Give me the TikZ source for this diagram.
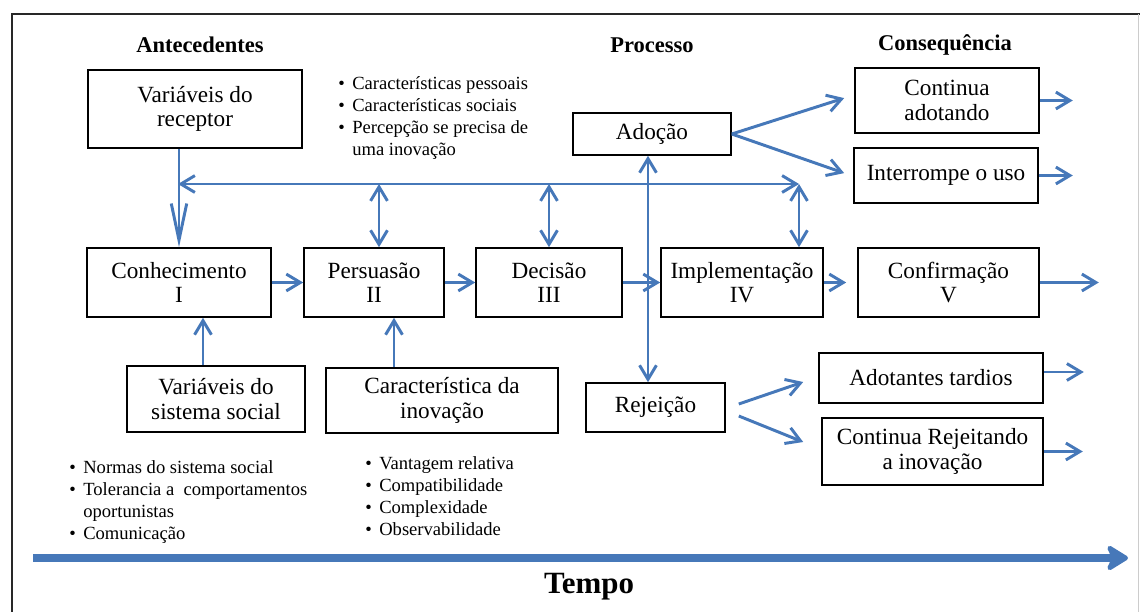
\documentclass[tikz,border=0pt]{standalone}
\usepackage{fontspec}
\setmainfont{Liberation Serif}
\usetikzlibrary{arrows.meta}
\definecolor{flowblue}{RGB}{70,120,185}
\definecolor{framegray}{RGB}{40,40,40}
\newcommand{\bul}{\makebox[10pt][l]{\textbullet}}
\newcommand{\cont}{\hspace*{10pt}}

\begin{document}
\begin{tikzpicture}[
  x=0.025cm, y=-0.025cm,
  box/.style={draw, line width=1.1pt, align=center, inner sep=2pt,
              font=\fontsize{16.5}{17.5}\selectfont},
  hdr/.style={font=\fontsize{16}{18}\selectfont\bfseries},
  lst/.style={align=left, anchor=north west, inner sep=0pt,
              font=\fontsize{13.2}{15.8}\selectfont},
  arr/.style={-{Straight Barb[length=10pt,width=12pt]}, line width=2.1pt, flowblue},
  dbl/.style={{Straight Barb[length=10pt,width=12pt]}-{Straight Barb[length=10pt,width=12pt]},
              line width=2.1pt, flowblue},
  tarr/.style={-{Stealth[length=18pt,width=22pt,inset=5pt,round]}, line width=5.5pt, flowblue}
]
\useasboundingbox (0,0) rectangle (1140,612);
\draw[framegray, line width=2pt] (12,612) -- (12,14) -- (1140,14);
\draw[gray!40, line width=0.6pt] (1138,14) -- (1138,612);

% headings
\node[hdr] (hant) at (200,45) {Antecedentes};
\node[hdr] (hproc) at (652,45) {Processo};
\node[hdr] (hcons) at (945,45) {Consequência};

% antecedents
\node[box, minimum width=5.35cm, minimum height=1.95cm] (recep) at (195,109) {Variáveis do\\receptor};
\node[box, minimum width=4.45cm, minimum height=1.65cm] (social) at (216,399) {Variáveis do\\sistema social};
\node[box, minimum width=5.8cm, minimum height=1.625cm] (caract) at (442,400.5) {Característica da\\inovação};
\node[lst] (lrecep) at (338,76) {\bul Características pessoais\\\bul Características sociais\\\bul Percepção se precisa de\\\cont uma inovação};
\node[lst] (lsocial) at (69,460) {\bul Normas do sistema social\\\bul Tolerancia a\ \ comportamentos\\\cont oportunistas\\\bul Comunicação};
\node[lst] (lcaract) at (365,456) {\bul Vantagem relativa\\\bul Compatibilidade\\\bul Complexidade\\\bul Observabilidade};

% process
\node[box, minimum width=4.6cm, minimum height=1.725cm] (conh) at (179,282.5) {Conhecimento\\I};
\node[box, minimum width=3.5cm, minimum height=1.725cm] (pers) at (374,282.5) {Persuasão\\II};
\node[box, minimum width=3.65cm, minimum height=1.725cm] (dec) at (549,282.5) {Decisão\\III};
\node[box, minimum width=4.05cm, minimum height=1.725cm] (impl) at (742,282.5) {Implementação\\IV};
\node[box, minimum width=4.525cm, minimum height=1.725cm] (conf) at (948.5,282.5) {Confirmação\\V};
\node[box, minimum width=3.95cm, minimum height=1.05cm] (adocao) at (652,134) {Adoção};
\node[box, minimum width=3.475cm, minimum height=1.225cm] (rejeicao) at (655.5,407.5) {Rejeição};

% consequences
\node[box, minimum width=4.6cm, minimum height=1.625cm] (contad) at (947,100.5) {Continua\\adotando};
\node[box, minimum width=4.6cm, minimum height=1.375cm] (interr) at (946,175.5) {Interrompe o uso};
\node[box, minimum width=5.6cm, minimum height=1.25cm] (tardios) at (931,378) {Adotantes tardios};
\node[box, minimum width=5.525cm, minimum height=1.675cm] (contrej) at (932.5,451.5) {Continua Rejeitando\\a inovação};

% connectors
\coordinate (busL) at (178,184);
\coordinate (busR) at (799,184);
\coordinate (vx) at (648,0);
\draw[dbl] (busL) -- (busR);
\draw[arr, -{Straight Barb[length=26pt,width=11pt]}] (recep.south -| conh.north) -- (conh.north);
\draw[dbl] ([xshift=0.125cm]pers.north |- busL) -- ([xshift=0.125cm]pers.north);
\draw[dbl] (dec.north |- busL) -- (dec.north);
\draw[dbl] (busR) -- (busR |- impl.north);
\draw[dbl] (adocao.south -| vx) -- (rejeicao.north -| vx);

\draw[arr] (conh.east) -- (pers.west);
\draw[arr] (pers.east) -- (dec.west);
\draw[arr] (dec.east) -- (impl.west);
\draw[arr] (impl.east) -- ([xshift=-0.275cm]conf.west);
\draw[arr] (conf.east) -- ++(1.475cm,0);

\draw[arr] ([xshift=-0.325cm]social.north) -- ([xshift=-0.325cm]social.north |- conh.south);
\draw[arr] ([xshift=0.5cm]pers.south |- caract.north) -- ([xshift=0.5cm]pers.south);

\draw[arr] (adocao.east) -- ([xshift=-0.25cm,yshift=0.06cm]contad.west);
\draw[arr] (adocao.east) -- ([xshift=-0.225cm,yshift=0.06cm]interr.west);
\draw[arr] ([xshift=0.325cm,yshift=0.0875cm]rejeicao.east) -- ([xshift=-0.375cm,yshift=-0.1cm]tardios.west);
\draw[arr] ([xshift=0.325cm,yshift=-0.2125cm]rejeicao.east) -- ([xshift=-0.45cm,yshift=0.2375cm]contrej.west);

\draw[arr] (contad.east) -- ++(0.825cm,0);
\draw[arr] (interr.east) -- ++(0.85cm,0);
\draw[arr] ([yshift=0.15cm]tardios.east) -- ++(1cm,0);
\draw[arr] (contrej.east) -- ++(0.975cm,0);

% time axis
\coordinate (t0) at (33,558);
\coordinate (t1) at (1128,558);
\draw[tarr] (t0) -- (t1);
\node[font=\fontsize{22}{24}\selectfont\bfseries] (tempo) at (589,587) {Tempo};
\end{tikzpicture}
\end{document}
